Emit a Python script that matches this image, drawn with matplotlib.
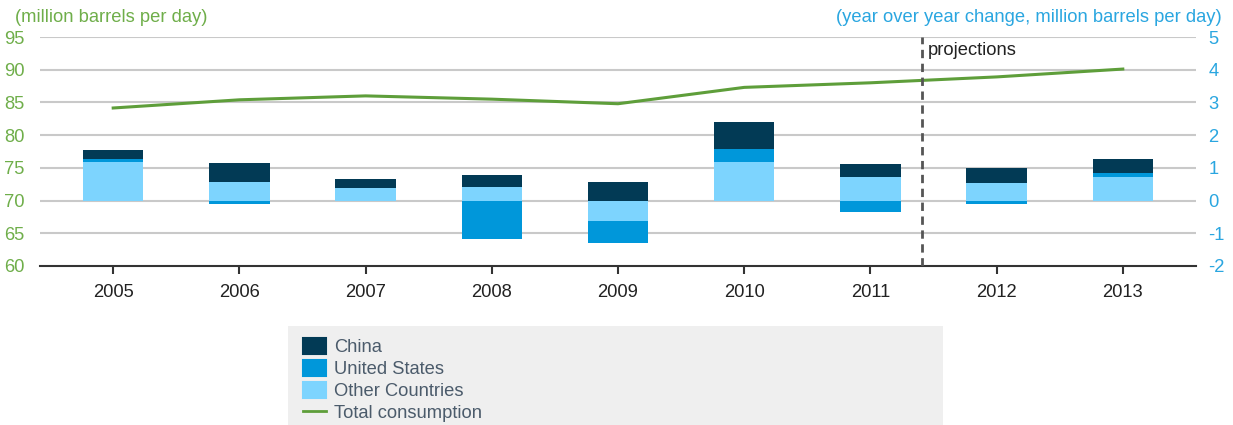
import numpy as np
import matplotlib
matplotlib.use("Agg")
import matplotlib.pyplot as plt
from matplotlib.patches import Patch, Rectangle
from matplotlib.lines import Line2D

plt.rcParams['font.family'] = ['Liberation Sans', 'DejaVu Sans']
plt.rcParams['axes.unicode_minus'] = False

years = ['2005', '2006', '2007', '2008', '2009', '2010', '2011', '2012', '2013']
# year over year change, million barrels per day
china = [0.27, 0.57, 0.28, 0.39, 0.57, 0.83, 0.42, 0.48, 0.43]
united_states = [0.10, -0.12, 0.0, -1.16, -0.68, 0.40, -0.34, -0.12, 0.12]
other_countries = [1.17, 0.57, 0.39, 0.40, -0.61, 1.17, 0.71, 0.53, 0.71]
# total consumption, million barrels per day
total = [84.15, 85.4, 86.0, 85.5, 84.8, 87.3, 88.0, 88.9, 90.1]

c_china = '#023a55'
c_us = '#0097da'
c_other = '#7dd4fe'
c_line = '#5e9e3a'
c_left = '#6fae4a'
c_right = '#2aa6e0'

fs = 13.2

fig = plt.figure(figsize=(12.33, 4.25), dpi=100)
ax = fig.add_axes([40 / 1233, 1 - 266 / 425, (1196 - 40) / 1233, (266 - 37) / 425])
ax2 = ax.twinx()

x = np.arange(len(years))
w = 0.48

# stack positives upward and negatives downward from zero
pos = np.zeros(len(years))
neg = np.zeros(len(years))
for vals, col in [(other_countries, c_other), (united_states, c_us), (china, c_china)]:
    v = np.array(vals)
    bottoms = np.where(v >= 0, pos, neg)
    ax2.bar(x, v, w, bottom=bottoms, color=col, linewidth=0, zorder=3)
    pos = pos + np.where(v >= 0, v, 0)
    neg = neg + np.where(v < 0, v, 0)

ax.plot(x, total, color=c_line, linewidth=2.2, zorder=4)
ax.set_zorder(ax2.get_zorder() + 1)
ax.patch.set_visible(False)

ax.set_ylim(60, 95)
ax2.set_ylim(-2, 5)
ax.set_xlim(-0.58, 8.58)
ax.set_yticks(range(60, 96, 5))
ax2.set_yticks(range(-2, 6))

ax.set_xticks(x)
ax.set_xticklabels(years)

# horizontal gridlines, drawn on the bar axes so they sit behind the bars
for v in range(-1, 6):
    ax2.axhline(v, color='#c9c9c9', linewidth=1.5, zorder=1)

for a in (ax, ax2):
    for s in ('top', 'left', 'right'):
        a.spines[s].set_visible(False)
ax.spines['bottom'].set_color('#333333')
ax.spines['bottom'].set_linewidth(1.5)
ax2.spines['bottom'].set_visible(False)

ax.tick_params(axis='x', colors='#333333', labelsize=fs, length=6, width=1.5, pad=7,
               labelcolor='#222222')
ax.tick_params(axis='y', length=0, labelsize=fs, labelcolor=c_left, pad=11)
ax2.tick_params(axis='y', length=0, labelsize=fs, labelcolor=c_right, pad=9)
for lab in ax2.get_yticklabels():
    lab.set_horizontalalignment('left')

# projections divider
ax.axvline(6.41, color='#555555', linestyle=(0, (3, 2)), linewidth=2, zorder=5)
ax.text(6.455, 93.0, 'projections', fontsize=fs, color='#222222', va='center', ha='left')

fig.text(15 / 1233, 1 - 17 / 425, '(million barrels per day)', color=c_left,
         fontsize=fs, ha='left', va='center')
fig.text(1222 / 1233, 1 - 17 / 425, '(year over year change, million barrels per day)',
         color=c_right, fontsize=fs, ha='right', va='center')

# legend panel
fig.patches.append(Rectangle((288 / 1233, 0), (943 - 288) / 1233, 1 - 326 / 425,
                             transform=fig.transFigure, facecolor='#efefef',
                             edgecolor='none', zorder=0))
handles = [
    Patch(facecolor=c_china, edgecolor=c_china, linewidth=1.5, joinstyle='round', label='China'),
    Patch(facecolor=c_us, edgecolor=c_us, linewidth=1.5, joinstyle='round', label='United States'),
    Patch(facecolor=c_other, edgecolor=c_other, linewidth=1.5, joinstyle='round',
          label='Other Countries'),
    Line2D([], [], color=c_line, linewidth=2, label='Total consumption'),
]
leg = fig.legend(handles=handles, loc='upper left', bbox_to_anchor=(303 / 1233, 1 - 338 / 425),
                 frameon=False, fontsize=fs, handlelength=1.25, handleheight=0.95,
                 handletextpad=0.45, labelspacing=0.2, borderaxespad=0, borderpad=0)
for t in leg.get_texts():
    t.set_color('#4b5b6b')

fig.savefig('out.png', dpi=100)
